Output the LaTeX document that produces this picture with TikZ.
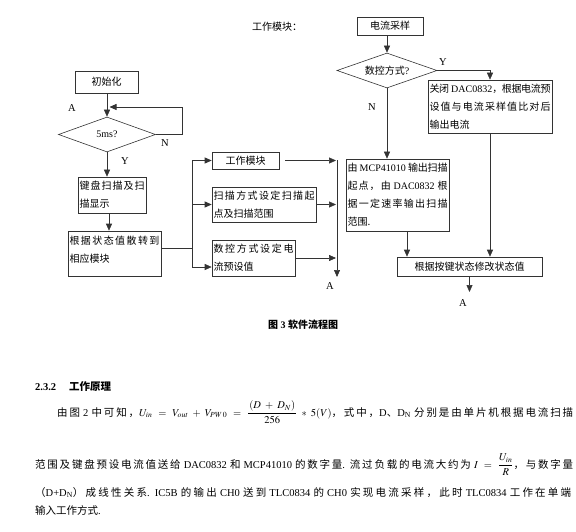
\documentclass[tikz,border=0pt]{standalone}
\usepackage{mathptmx}
\usepackage{fontspec}
\setmainfont{Liberation Serif}
\newfontfamily\cjk{Noto Sans CJK SC}
\usetikzlibrary{arrows.meta,shapes.geometric}
% glue between CJK characters so that lines can be justified
\newXeTeXintercharclass\cjkcls
\newcount\cjkc
\cjkc="4E00
\loop \XeTeXcharclass\cjkc=\cjkcls \advance\cjkc by 1 \ifnum\cjkc<"A000 \repeat
\cjkc="3000
\loop \XeTeXcharclass\cjkc=\cjkcls \advance\cjkc by 1 \ifnum\cjkc<"3040 \repeat
\cjkc="FF00
\loop \XeTeXcharclass\cjkc=\cjkcls \advance\cjkc by 1 \ifnum\cjkc<"FFF0 \repeat
\XeTeXinterchartoks\cjkcls\cjkcls={\hskip 0pt plus 5pt minus 0.6pt\relax}
\XeTeXinterchartokenstate=1
\newcommand\zh[1]{{\cjk #1}}
\newcommand\jl[2]{\hbox to #1{#2}}
\tikzset{
  ln/.style={line width=0.6pt, draw=black!80},
  arr/.style={ln, -{Triangle[length=7pt,width=6pt]}},
  box/.style={draw=black!80, line width=0.6pt, rectangle, inner xsep=1.5pt, inner ysep=0pt,
    font=\fontsize{10}{18}\selectfont, align=left},
  dia/.style={draw=black!80, line width=0.6pt, shape=diamond, aspect=2.8, inner sep=0pt,
    font=\fontsize{10}{12}\selectfont},
  lbl/.style={inner sep=0pt, font=\fontsize{10.5}{12}\selectfont},
  body/.style={anchor=base west, inner sep=0pt, font=\fontsize{10.5}{12}\selectfont}
}
\begin{document}
\begin{tikzpicture}[x=1pt,y=-1pt]
\path[use as bounding box] (0,0) rectangle (576,532);

% title
\node[lbl, font=\fontsize{10}{12}\selectfont] (ttl) at (277,27) {\zh{工作模块：}};

% ---------- left flow ----------
\node[box, minimum width=63pt, minimum height=22pt] (init) at (106.5,82) {\zh{初始化}};
\node[dia, minimum width=97pt, minimum height=35pt] (d1) at (107,134.5) {5ms?};
\node[box, minimum width=68pt, minimum height=36pt] (kb) at (112,195)
  {\jl{65pt}{\zh{键盘扫描及扫}}\\\zh{描显示}};
\node[box, minimum width=93pt, minimum height=45pt, text depth=9pt] (disp) at (114.5,253.5)
  {\jl{90pt}{\zh{根据状态值散转到}}\\\zh{相应模块}};

\node[box, minimum width=67pt, minimum height=17pt] (work) at (245.5,160.5) {\zh{工作模块}};
\node[box, minimum width=104pt, minimum height=35pt] (scan) at (264,204.5)
  {\jl{101pt}{\zh{扫描方式设定扫描起}}\\\zh{点及扫描范围}};
\node[box, minimum width=83pt, minimum height=36pt] (nc) at (253.5,258)
  {\jl{80pt}{\zh{数控方式设定电}}\\\zh{流预设值}};

% labels
\node[lbl] (lA1) at (72,108) {A};
\node[lbl] (lN1) at (165,143) {N};
\node[lbl] (lY1) at (125,161) {Y};
\node[lbl] (lA2) at (330,286) {A};

% connectors left
\draw[arr] (init.south -| d1.north) -- (d1.north);
\coordinate (lp1) at (182,134.5);
\coordinate (lp2) at (182,107);
\coordinate (lp3) at (109.5,107);
\draw[arr] (d1.east) -- (lp1) -- (lp2) -- (lp3);
\coordinate (kx) at (109,0);
\draw[arr] (d1.south) -- (d1.south |- kb.north);
\draw[arr] (kx |- kb.south) -- (kx |- disp.north);

\coordinate (sp) at (192,248);
\coordinate (b1) at (192,160.5);
\coordinate (b2) at (192,204.5);
\coordinate (b3) at (192,267);
\draw[ln] (disp.east |- sp) -- (sp);
\draw[ln] (b1) -- (b3);
\draw[arr] (b1) -- (work.west);
\draw[arr] (b2) -- (scan.west);
\draw[arr] (b3) -- (b3 -| nc.west);

\coordinate (bus1) at (337,160.5);
\coordinate (bus2) at (337,277);
\coordinate (bt1) at (336,160.5);
\coordinate (bt2) at (336,204.5);
\coordinate (bt3) at (336,258);
\draw[arr] ([xshift=6pt]work.east) -- (bt1);
\draw[arr] (scan.east) -- (bt2);
\draw[arr] (nc.east) -- (bt3);
\draw[arr] (bus1) -- (bus2);

% ---------- right flow ----------
\node[box, minimum width=66pt, minimum height=18pt] (samp) at (390,26) {\zh{电流采样}};
\node[dia, minimum width=100pt, minimum height=35pt] (d2) at (387,70.5) {\zh{数控方式}?};
\node[box, minimum width=124pt, minimum height=53pt] (close) at (490,106.5)
  {\jl{121pt}{\zh{关闭} DAC0832\zh{，根据电流预}}\\\jl{121pt}{\zh{设值与电流采样值比对后}}\\\zh{输出电流}};
\node[box, minimum width=103pt, minimum height=72pt] (mcp) at (397.5,195)
  {\jl{100pt}{\zh{由} MCP41010 \zh{输出扫描}}\\\jl{100pt}{\zh{起点，由} DAC0832 \zh{根}}\\\jl{100pt}{\zh{据一定速率输出扫描}}\\\zh{范围.}};
\node[box, minimum width=145pt, minimum height=19pt] (mod) at (469.5,266.5) {\zh{根据按键状态修改状态值}};

\node[lbl] (lY2) at (443,62) {Y};
\node[lbl] (lN2) at (372,107) {N};
\node[lbl] (lA3) at (463,303) {A};

\draw[arr] (d2.north |- samp.south) -- (d2.north);
\draw[arr] (d2.east) -| (close.north);
\draw[arr] (d2.south) -- (d2.south |- mcp.north);
\coordinate (m1) at (407,231);
\draw[arr] (m1) -- (m1 |- mod.north);
\draw[arr] (close.south) -- (close.south |- mod.north);
\coordinate (mA) at (469.5,292);
\draw[arr] (mod.south) -- (mA);

% ---------- caption and body text ----------
\node[inner sep=0pt, font=\bfseries\fontsize{10}{12}\selectfont] (cap) at (303,325) {\zh{图} 3 \zh{软件流程图}};
\node[body, font=\bfseries\fontsize{10.5}{12}\selectfont] (sec) at (35,390) {2.3.2\hspace{13pt}\zh{工作原理}};

\node[body] (p1) at (57,416)
  {\jl{516pt}{\medmuskip=7mu\thickmuskip=10mu\zh{由图} 2 \zh{中可知，}$U_{in} = V_{out} + V_{PW\,0} = \displaystyle\frac{\,(D+D_N)\,}{256} * 5(V)$\zh{，式中，}D\zh{、}D\textsubscript{N} \zh{分别是由单片机根据电流扫描}}};
\node[body] (p2) at (35,468)
  {\jl{538pt}{\medmuskip=7mu\thickmuskip=10mu\zh{范围及键盘预设电流值送给} DAC0832 \zh{和} MCP41010 \zh{的数字量}. \zh{流过负载的电流大约为} $I = \displaystyle\frac{U_{in}}{R}$\zh{，与数字量}}};
\node[body] (p3) at (35,496)
  {\jl{536pt}{\zh{（}D+D\textsubscript{N}\zh{）成线性关系}. IC5B \zh{的输出} CH0 \zh{送到} TLC0834 \zh{的} CH0 \zh{实现电流采样，此时} TLC0834 \zh{工作在单端}}};
\node[body] (p4) at (35,514) {\zh{输入工作方式}.};
\end{tikzpicture}
\end{document}
